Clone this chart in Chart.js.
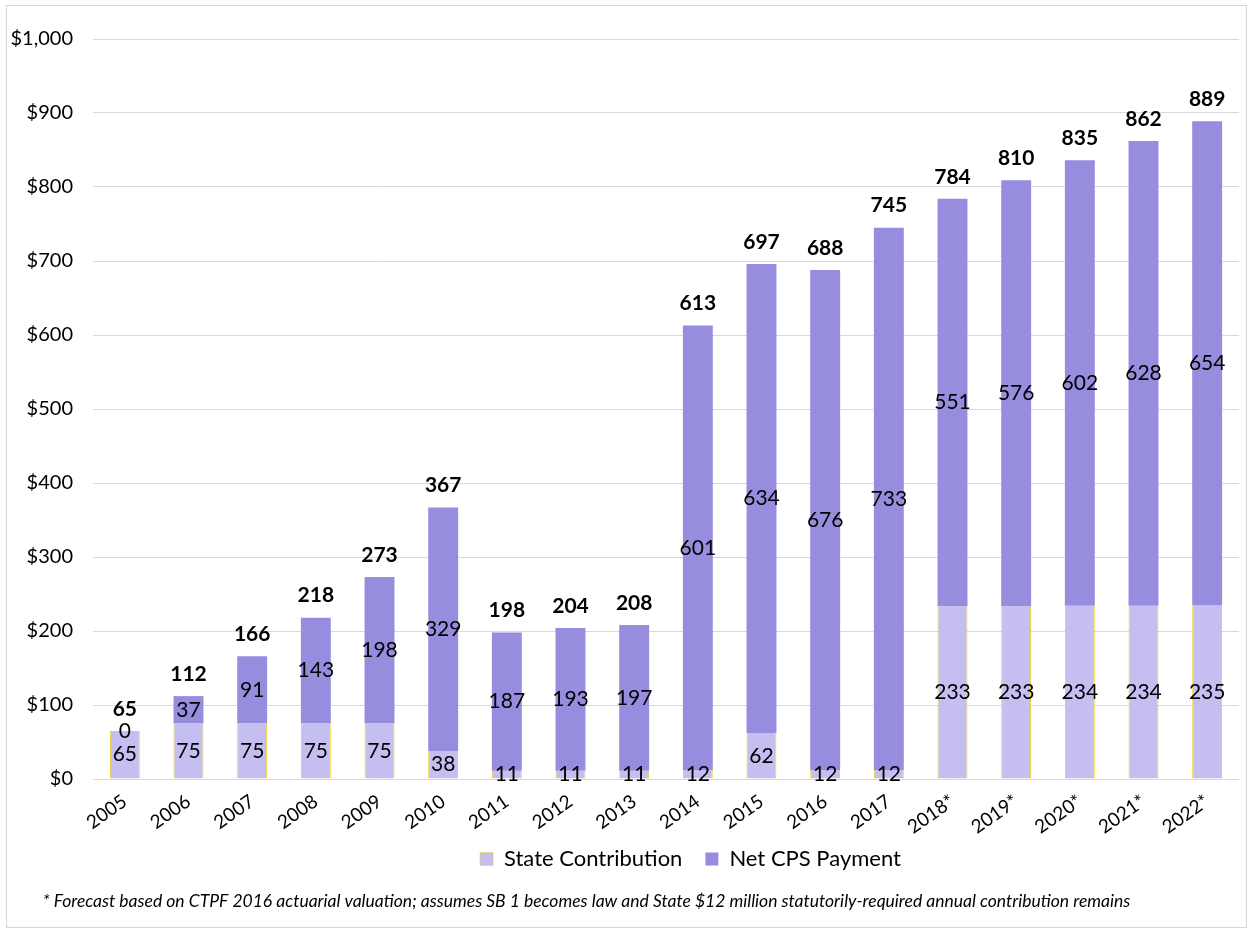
<!DOCTYPE html>
<html>
<head>
<meta charset="utf-8">
<script src="https://cdn.jsdelivr.net/npm/chart.js@4.4.1/dist/chart.umd.min.js"></script>
<style>
  body { margin: 0; background: #fff; }
  #wrap { width: 1251px; height: 932px; position: relative; }
</style>
</head>
<body>
<div id="wrap"><canvas id="myChart"></canvas></div>
<script>
var years = ["2005", "2006", "2007", "2008", "2009", "2010", "2011", "2012", "2013",
             "2014", "2015", "2016", "2017", "2018*", "2019*", "2020*", "2021*", "2022*"];
var stateValues = [65, 75, 75, 75, 75, 38, 11, 11, 11, 12, 62, 12, 12, 233, 233, 234, 234, 235];
var cpsValues = [0, 37, 91, 143, 198, 329, 187, 193, 197, 601, 634, 676, 733, 551, 576, 602, 628, 654];
var totalValues = [65, 112, 166, 218, 273, 367, 198, 204, 208, 613, 697, 688, 745, 784, 810, 835, 862, 889];
var yTicks = [0, 100, 200, 300, 400, 500, 600, 700, 800, 900, 1000];

var font = "Lato, 'Open Sans', sans-serif";

// labels inside each segment plus the bold total above the stack
var barLabels = {
  id: "barLabels",
  afterDatasetsDraw: function (chart) {
    var ctx = chart.ctx;
    ctx.save();
    ctx.textAlign = "center";
    ctx.textBaseline = "middle";
    ctx.fillStyle = "#000";
    ctx.font = "21px " + font;
    chart.data.datasets.forEach(function (ds, i) {
      var meta = chart.getDatasetMeta(i);
      meta.data.forEach(function (bar, j) {
        var mid = (bar.y + bar.base) / 2;
        ctx.fillText(String(ds.data[j]), bar.x, mid);
      });
    });
    var top = chart.getDatasetMeta(1);
    var yScale = chart.scales.y;
    ctx.font = "bold 21px " + font;
    top.data.forEach(function (bar, j) {
      var yTop = yScale.getPixelForValue(stateValues[j] + cpsValues[j]);
      ctx.fillText(String(totalValues[j]), bar.x, yTop - 22);
    });
    ctx.restore();
  }
};

// thin frame around the whole chart
var frame = {
  id: "frame",
  beforeDraw: function (chart) {
    var ctx = chart.ctx;
    ctx.save();
    ctx.strokeStyle = "#d6d6d6";
    ctx.lineWidth = 1;
    ctx.strokeRect(6.5, 5.5, 1240, 922);
    ctx.restore();
  }
};

// move legend and footnote boxes after layout
var nudge = {
  id: "nudge",
  afterLayout: function (chart) {
    chart.boxes.forEach(function (box) {
      var dx = 0, dy = 0;
      if (box === chart.legend) { dx = 71; dy = -14; }
      else if (box.options && typeof box.options.text === "string" && box.options.text.charAt(0) === "*") { dx = -33; dy = -3; }
      box.left += dx;
      box.right += dx;
      box.top += dy;
      box.bottom += dy;
    });
  }
};

new Chart("myChart", {
  type: "bar",
  data: {
    labels: years,
    datasets: [{
      label: "State Contribution",
      data: stateValues,
      backgroundColor: "#c4bff0",
      borderColor: "#f2cf1f",
      borderWidth: { left: 1, right: 1, top: 0, bottom: 0 },
      borderSkipped: false
    }, {
      label: "Net CPS Payment",
      data: cpsValues,
      backgroundColor: "#978ddf",
      borderWidth: 0
    }]
  },
  options: {
    responsive: true,
    maintainAspectRatio: false,
    animation: false,
    layout: { padding: { left: 0, right: 12, top: 39, bottom: 17 } },
    datasets: { bar: { categoryPercentage: 1, barPercentage: 0.47 } },
    scales: {
      x: {
        stacked: true,
        grid: { display: false },
        border: { display: false },
        ticks: {
          color: "#000",
          font: { family: font, size: 19 },
          minRotation: 35,
          maxRotation: 35,
          padding: 3
        },
        afterFit: function (s) { s.height = 60; }
      },
      y: {
        stacked: true,
        min: 0,
        max: 1000,
        afterBuildTicks: function (s) {
          s.ticks = yTicks.map(function (v) { return { value: v }; });
        },
        grid: { color: "#d9d9d9", drawTicks: false },
        border: { display: false },
        ticks: {
          color: "#000",
          font: { family: font, size: 20 },
          padding: 20,
          callback: function (v) { return "$" + v.toLocaleString("en-US"); }
        },
        afterFit: function (s) { s.width = 93; }
      }
    },
    plugins: {
      legend: {
        position: "bottom",
        labels: {
          color: "#000",
          font: { family: font, size: 22 },
          boxWidth: 13,
          boxHeight: 13,
          padding: 23
        }
      },
      subtitle: {
        display: true,
        position: "bottom",
        text: "* Forecast based on CTPF 2016 actuarial valuation; assumes SB 1 becomes law and State $12 million statutorily-required annual contribution remains",
        color: "#000",
        font: { family: font, size: 17.5, style: "italic" },
        padding: { top: 0, bottom: 0 }
      },
      tooltip: { enabled: false }
    }
  },
  plugins: [frame, barLabels, nudge]
});
</script>
</body>
</html>
